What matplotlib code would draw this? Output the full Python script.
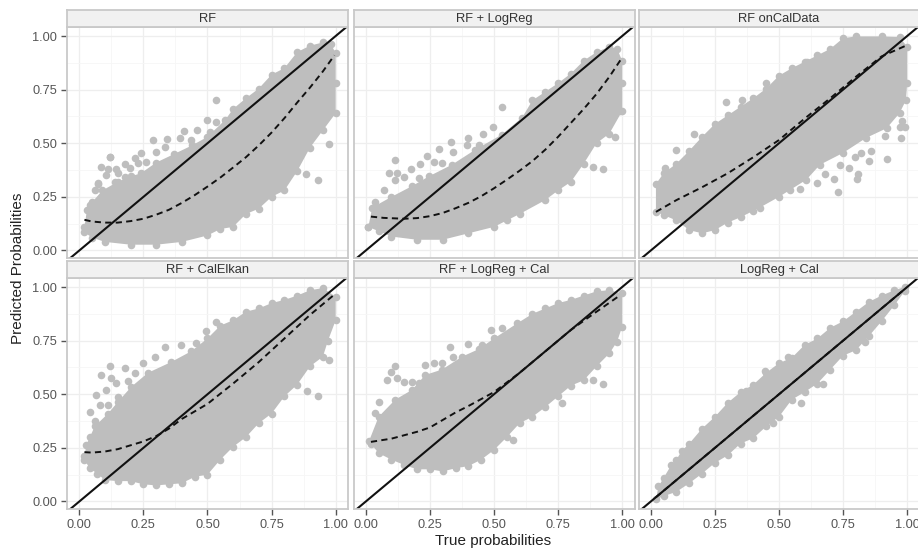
#!/usr/bin/python3

import numpy as np
import matplotlib
matplotlib.use('Agg')
import matplotlib.pyplot as plt

plt.rcParams['font.family'] = ['Liberation Sans', 'DejaVu Sans']

W, H = 918, 552
GREY = '#bebebe'
EDGE = '#c9c9c9'
TICK = '#555555'

titles = ['RF', 'RF + LogReg', 'RF onCalData',
          'RF + CalElkan', 'RF + LogReg + Cal', 'LogReg + Cal']
tick_vals = [0, 0.25, 0.5, 0.75, 1]
tick_labels = ['0.00', '0.25', '0.50', '0.75', '1.00']

# upper and lower edges of the solid part of each grey cloud
rf_up = [(.02, .11), (.03, .19), (.05, .225), (.09, .28), (.15, .32), (.2, .345), (.24, .36), (.3, .41),
         (.37, .45), (.44, .49), (.5, .53), (.57, .61), (.6, .66), (.65, .71), (.7, .755), (.75, .82),
         (.8, .85), (.85, .925), (.9, .955), (.95, .97), (.98, .965), (1.0, .92)]
rf_lo = [(.02, .085), (.05, .06), (.1, .04), (.2, .027), (.3, .027), (.4, .04), (.5, .07), (.55, .10),
         (.6, .11), (.65, .17), (.7, .195), (.75, .25), (.8, .28), (.85, .37), (.9, .48), (.95, .56),
         (1.0, .64), (1.0, .78)]
lr_up = [(.01, .11), (.025, .20), (.1, .25), (.18, .30), (.245, .345), (.336, .40), (.427, .47), (.53, .54),
         (.61, .62), (.65, .70), (.7, .74), (.75, .78), (.8, .825), (.85, .885), (.9, .925), (.95, .95),
         (.98, .94), (1.0, .885)]
lr_lo = [(.01, .11), (.05, .09), (.1, .065), (.2, .05), (.3, .05), (.4, .08), (.5, .11), (.55, .14),
         (.6, .17), (.7, .235), (.75, .28), (.8, .32), (.85, .405), (.9, .50), (.95, .545), (1.0, .65),
         (1.0, .78)]
oncal_up = [(.02, .31), (.05, .36), (.1, .405), (.15, .465), (.2, .53), (.25, .59), (.3, .63), (.35, .67),
            (.4, .71), (.45, .755), (.5, .815), (.55, .85), (.6, .88), (.65, .91), (.7, .94), (.75, .99),
            (.8, .998), (.9, .998), (.97, .995), (1.0, .95)]
oncal_lo = [(.02, .18), (.05, .165), (.1, .14), (.15, .095), (.2, .08), (.25, .095), (.3, .13), (.35, .155),
            (.4, .185), (.425, .20), (.5, .25), (.607, .33), (.66, .40), (.75, .455), (.84, .525), (.92, .57),
            (.97, .64), (.995, .70), (1.0, .78)]
elkan_up = [(.02, .21), (.028, .265), (.06, .35), (.112, .41), (.151, .465), (.203, .535), (.268, .60),
            (.358, .65), (.436, .70), (.5, .76), (.55, .82), (.6, .845), (.65, .885), (.7, .90), (.75, .925),
            (.8, .94), (.85, .96), (.9, .985), (.95, .995), (1.0, .955)]
elkan_lo = [(.02, .195), (.04, .155), (.07, .13), (.1, .10), (.15, .095), (.2, .095), (.25, .08), (.3, .075),
            (.35, .08), (.4, .085), (.45, .115), (.5, .125), (.55, .195), (.6, .255), (.65, .30), (.7, .365),
            (.75, .41), (.8, .49), (.85, .545), (.9, .63), (.95, .675), (.97, .75), (1.0, .845)]
lrcal_up = [(.012, .28), (.05, .395), (.115, .475), (.18, .52), (.232, .59), (.297, .615), (.375, .675),
            (.44, .71), (.5, .76), (.59, .83), (.65, .875), (.7, .90), (.75, .925), (.8, .94), (.85, .96),
            (.9, .98), (.95, .985), (1.0, .97)]
lrcal_lo = [(.02, .27), (.05, .225), (.1, .195), (.15, .17), (.2, .15), (.25, .15), (.3, .14), (.35, .155),
            (.4, .165), (.45, .195), (.5, .24), (.55, .30), (.6, .365), (.65, .395), (.7, .44), (.75, .49),
            (.8, .54), (.85, .565), (.9, .63), (.95, .69), (.98, .745), (1.0, .815)]
cal_up = [(.03, .07), (.05, .11), (.08, .17), (.1, .195), (.12, .235), (.15, .27), (.2, .34), (.25, .395),
          (.3, .46), (.35, .51), (.4, .545), (.45, .60), (.5, .645), (.55, .67), (.6, .73), (.65, .76),
          (.7, .81), (.75, .84), (.8, .885), (.85, .93), (.9, .96), (.95, .985), (.99, 1.0)]
cal_lo = [(.02, .01), (.05, .025), (.1, .045), (.15, .085), (.2, .13), (.25, .18), (.3, .215), (.35, .27),
          (.4, .295), (.45, .35), (.5, .395), (.55, .475), (.6, .51), (.65, .55), (.7, .615), (.75, .68),
          (.8, .705), (.85, .77), (.9, .84), (.95, .915), (.99, .98)]
upper = [rf_up, lr_up, oncal_up, elkan_up, lrcal_up, cal_up]
lower = [rf_lo, lr_lo, oncal_lo, elkan_lo, lrcal_lo, cal_lo]

# points in the fringe, standing clear of the solid part
strays = [
    [(.534, .70), (.12, .435), (.074, .31), (.93, .327), (.973, .495), (.885, .355), (.119, .437), (.086, .391),
     (.073, .316), (.06, .282), (.18, .403), (.287, .515), (.343, .518), (.408, .558), (.499, .608), (.46, .562),
     (.534, .60), (.242, .456), (.216, .43), (.145, .379), (.112, .379), (.106, .352), (.151, .36), (.261, .414),
     (.30, .461), (.333, .484), (.391, .523), (.437, .515), (.508, .554), (.196, .383), (.229, .406), (.177, .344),
     (.138, .321), (.041, .212)],
    [(.53, .67), (.886, .39), (.925, .38), (.99, .65), (.97, .53), (.115, .422), (.239, .441), (.286, .473),
     (.333, .507), (.498, .577), (.459, .543), (.40, .523), (.07, .282), (.09, .36), (.122, .36), (.177, .379),
     (.212, .403), (.265, .414), (.297, .409), (.342, .461), (.394, .492), (.44, .492), (.035, .227), (.148, .344),
     (.206, .337), (.115, .329)],
    [(.295, .69), (.355, .70), (.45, .78), (.17, .545), (.10, .47), (.056, .385), (.61, .88), (.73, .274),
     (.648, .313), (.713, .332), (.806, .332), (.808, .357), (.773, .383), (.851, .417), (.923, .425), (.977, .526),
     (.86, .464), (.795, .434), (.821, .456), (.912, .534), (.99, .577), (.581, .285), (.542, .282), (.678, .357),
     (.737, .399), (.971, .577), (.981, .605)],
    [(.534, .835), (.495, .795), (.93, .49), (.887, .515), (.973, .66), (.40, .09), (.119, .632), (.18, .621),
     (.086, .59), (.125, .575), (.145, .551), (.106, .52), (.067, .497), (.04, .419), (.06, .373), (.041, .303),
     (.08, .45), (.216, .598), (.248, .645), (.294, .675), (.333, .719), (.398, .73), (.456, .74), (.19, .56),
     (.151, .489), (.112, .45)],
    [(.49, .80), (.53, .81), (.767, .457), (.925, .55), (.886, .565), (.575, .287), (.115, .632), (.10, .605),
     (.083, .567), (.122, .575), (.05, .466), (.035, .412), (.18, .559), (.148, .559), (.232, .637), (.266, .645),
     (.33, .722), (.342, .675), (.40, .735), (.453, .73), (.297, .647), (.206, .551)],
    [(.447, .61), (.37, .515), (.537, .675), (.584, .46), (.67, .55), (.837, .745), (.476, .365)],
]

# dashed fits
rf_fit = [(.02, .143), (.05, .135), (.1, .13), (.15, .13), (.2, .137), (.25, .148), (.3, .167), (.35, .19),
          (.4, .222), (.45, .258), (.5, .298), (.55, .34), (.6, .387), (.65, .435), (.7, .49), (.75, .55),
          (.8, .617), (.85, .69), (.9, .76), (.95, .835), (.995, .91)]
lr_fit = [(.02, .158), (.07, .152), (.15, .148), (.2, .151), (.25, .16), (.3, .175), (.35, .197), (.4, .222),
          (.45, .253), (.5, .29), (.55, .33), (.6, .372), (.65, .417), (.7, .47), (.75, .53), (.8, .595),
          (.85, .66), (.9, .73), (.95, .81), (1.0, .90)]
oncal_fit = [(.02, .18), (.1, .235), (.2, .295), (.3, .36), (.4, .435), (.5, .515), (.6, .615), (.7, .71),
             (.8, .81), (.9, .905), (.995, .955)]
elkan_fit = [(.02, .23), (.05, .228), (.1, .233), (.15, .244), (.2, .262), (.25, .28), (.3, .305), (.35, .34),
             (.4, .385), (.5, .455), (.6, .55), (.7, .65), (.75, .705), (.8, .76), (.9, .87), (1.0, .97)]
lrcal_fit = [(.02, .278), (.1, .293), (.2, .325), (.25, .345), (.3, .38), (.35, .415), (.4, .445), (.5, .51),
             (.6, .60), (.7, .70), (.8, .80), (.9, .885), (.99, .96)]
cal_fit = [(.02, .02), (.25, .25), (.5, .50), (.75, .75), (.98, .98)]
fits = [rf_fit, lr_fit, oncal_fit, elkan_fit, lrcal_fit, cal_fit]

lefts = [67, 353.5, 638.5]
tops = [27, 278]
pw, ph = 281, 231

fig = plt.figure(figsize=(W / 100, H / 100), dpi=100)

for i in range(6):
    row, col = i // 3, i % 3
    x0, y0 = lefts[col], tops[row]
    ax = fig.add_axes([x0 / W, 1 - (y0 + ph) / H, pw / W, ph / H])
    ax.set_xlim(-0.048, 1.048)
    ax.set_ylim(-0.035, 1.042)

    ax.set_xticks(tick_vals)
    ax.set_yticks(tick_vals)
    ax.set_xticks([.125, .375, .625, .875], minor=True)
    ax.set_yticks([.125, .375, .625, .875], minor=True)
    ax.grid(True, which='major', color='#eeeeee', lw=0.9)
    ax.grid(True, which='minor', color='#f6f6f6', lw=0.6)
    ax.set_axisbelow(True)
    ax.tick_params(which='minor', length=0)
    ax.tick_params(which='major', length=4, width=1, color=TICK, labelcolor=TICK,
                   labelsize=9.2, pad=3,
                   bottom=row == 1, labelbottom=row == 1,
                   left=col == 0, labelleft=col == 0)
    ax.set_xticklabels(tick_labels)
    ax.set_yticklabels(tick_labels)
    for s in ax.spines.values():
        s.set_color(EDGE)
        s.set_linewidth(1.3)
        s.set_zorder(5)

    up = np.array(upper[i])
    lo = np.array(lower[i])
    ring = np.vstack([up, lo[::-1]])
    ax.fill(ring[:, 0], ring[:, 1], color=GREY, lw=0, zorder=2)
    ax.scatter(ring[:, 0], ring[:, 1], s=30, color=GREY, lw=0, zorder=2)
    st = np.array(strays[i])
    ax.scatter(st[:, 0], st[:, 1], s=30, color=GREY, lw=0, zorder=2)

    ax.axline((0, 0), slope=1, color='#111111', lw=1.5, zorder=3)
    fit = np.array(fits[i])
    ax.plot(fit[:, 0], fit[:, 1], color='#111111', lw=1.4, dashes=(3.2, 2.2), zorder=4)

    strip = fig.add_axes([x0 / W, 1 - y0 / H, pw / W, 17 / H])
    strip.set_xticks([])
    strip.set_yticks([])
    strip.set_facecolor('#f1f1f1')
    for s in strip.spines.values():
        s.set_color(EDGE)
        s.set_linewidth(1.3)
    strip.text(0.5, 0.48, titles[i], ha='center', va='center', fontsize=9.3,
               color='#333333', transform=strip.transAxes)

fig.text(493 / W, 1 - 541 / H, 'True probabilities', ha='center', va='center',
         fontsize=11, color='#222222')
fig.text(18 / W, 1 - 268 / H, 'Predicted Probabilities', ha='center', va='center',
         rotation=90, fontsize=11, color='#222222')

fig.savefig('out.png', dpi=100)
